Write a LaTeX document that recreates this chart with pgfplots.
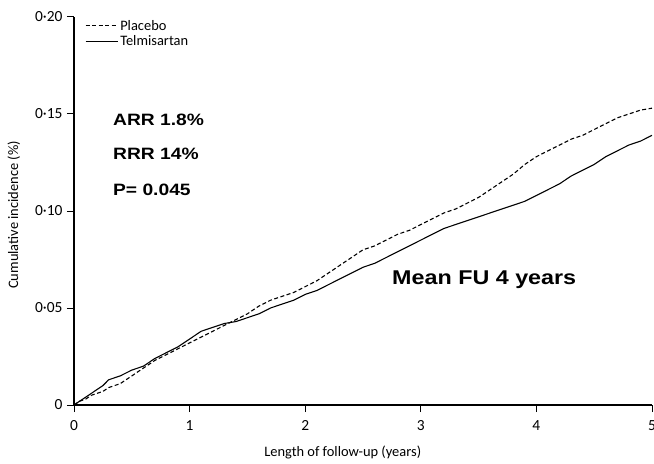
\documentclass[border=0pt]{standalone}
\usepackage{fontspec}
\setmainfont{Carlito}
\newfontfamily\annotfont[FakeStretch=1.17]{Liberation Sans}
\usepackage{pgfplots}
\pgfplotsset{compat=1.18}

\begin{document}
\begin{tikzpicture}
\begin{axis}[
    at={(74bp,59bp)}, anchor=south west,
    scale only axis, width=578bp, height=388bp,
    xmin=0, xmax=5, ymin=0, ymax=0.2,
    axis lines=left,
    axis line style={-, line width=1.1pt},
    xtick={0,1,2,3,4,5}, xticklabels={0,1,2,3,4,5},
    ytick={0,0.05,0.1,0.15,0.2}, yticklabels={0,0·05,0·10,0·15,0·20},
    tick align=outside, major tick length=7bp,
    tick style={line width=1pt, black},
    tick label style={font=\fontsize{15.5}{17}\selectfont},
    xticklabel style={yshift=-5bp},
    yticklabel style={xshift=-1bp},
    xlabel={Length of follow-up (years)},
    ylabel={Cumulative incidence (\%)},
    every axis x label/.style={at={(axis description cs:0.465,0)}, anchor=base,
        yshift=-51bp, font=\fontsize{14.5}{16}\selectfont},
    every axis y label/.style={at={(axis description cs:-0.104,0.49)}, anchor=center,
        rotate=90, font=\fontsize{14.5}{16}\selectfont},
    legend style={at={(axis description cs:0,1)}, anchor=north west,
        xshift=8bp, yshift=1bp, draw=none, fill=none,
        font=\fontsize{14.5}{16}\selectfont, row sep=0bp},
    legend cell align=left,
    legend image code/.code={\draw[#1] (0bp,0bp) -- (32bp,0bp);},
    clip=false,
]
% placebo, dashed
\addplot[black, line width=1.1pt, dash pattern=on 4bp off 2.5bp] table {
0.00 0.000
0.05 0.002
0.10 0.003
0.15 0.005
0.20 0.006
0.25 0.007
0.30 0.009
0.40 0.011
0.50 0.015
0.60 0.019
0.70 0.023
0.80 0.026
0.90 0.029
1.00 0.032
1.10 0.035
1.20 0.038
1.30 0.041
1.40 0.044
1.50 0.047
1.60 0.051
1.70 0.054
1.80 0.056
1.90 0.058
2.00 0.061
2.10 0.064
2.20 0.068
2.30 0.072
2.40 0.076
2.50 0.080
2.60 0.082
2.70 0.085
2.80 0.088
2.90 0.090
3.00 0.093
3.10 0.096
3.20 0.099
3.30 0.101
3.40 0.104
3.50 0.107
3.60 0.111
3.70 0.115
3.80 0.119
3.90 0.124
4.00 0.128
4.10 0.131
4.20 0.134
4.30 0.137
4.40 0.139
4.50 0.142
4.60 0.145
4.70 0.148
4.80 0.150
4.90 0.152
5.00 0.153
};
% telmisartan, solid
\addplot[black, line width=1.1pt] table {
0.00 0.000
0.05 0.002
0.10 0.004
0.15 0.006
0.20 0.008
0.25 0.010
0.30 0.013
0.40 0.015
0.50 0.018
0.60 0.020
0.70 0.024
0.80 0.027
0.90 0.030
1.00 0.034
1.10 0.038
1.20 0.040
1.30 0.042
1.40 0.043
1.50 0.045
1.60 0.047
1.70 0.050
1.80 0.052
1.90 0.054
2.00 0.057
2.10 0.059
2.20 0.062
2.30 0.065
2.40 0.068
2.50 0.071
2.60 0.073
2.70 0.076
2.80 0.079
2.90 0.082
3.00 0.085
3.10 0.088
3.20 0.091
3.30 0.093
3.40 0.095
3.50 0.097
3.60 0.099
3.70 0.101
3.80 0.103
3.90 0.105
4.00 0.108
4.10 0.111
4.20 0.114
4.30 0.118
4.40 0.121
4.50 0.124
4.60 0.128
4.70 0.131
4.80 0.134
4.90 0.136
5.00 0.139
};
\legend{Placebo, Telmisartan}

% annotations
\node[anchor=base west, inner sep=0pt, font=\annotfont\bfseries\fontsize{16.5}{18}\selectfont]
    at (axis cs:0.337,0.1443) {ARR 1.8\%};
\node[anchor=base west, inner sep=0pt, font=\annotfont\bfseries\fontsize{16.5}{18}\selectfont]
    at (axis cs:0.337,0.1263) {RRR 14\%};
\node[anchor=base west, inner sep=0pt, font=\annotfont\bfseries\fontsize{16.5}{18}\selectfont]
    at (axis cs:0.337,0.1082) {P= 0.045};
\node[anchor=base west, inner sep=0pt, font=\annotfont\bfseries\fontsize{20}{22}\selectfont]
    at (axis cs:2.751,0.0619) {Mean FU 4 years};
\end{axis}
\pgfresetboundingbox
\useasboundingbox (0,0) rectangle (654bp,464bp);
\end{tikzpicture}
\end{document}
